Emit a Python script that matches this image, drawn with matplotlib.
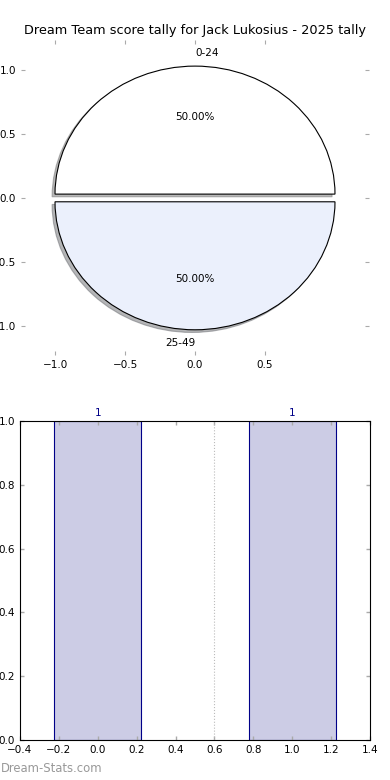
import matplotlib
matplotlib.use("Agg")
import matplotlib.pyplot as plt

title = "Dream Team score tally for Jack Lukosius - 2025 tally"
pie_labels = ["0-24", "25-49"]
pie_values = [1, 1]
pie_colors = ["#FFFFFF", "#EBF0FC"]
bar_positions = [0, 1]
bar_values = [1, 1]

fig = plt.figure(figsize=(3.9, 7.8), dpi=100)
tick_gray = "#aaaaaa"

# pie axes
ax1 = fig.add_axes([21/390, 1-355/780, 348/390, 315/780])
wedges, texts, autotexts = ax1.pie(pie_values, labels=pie_labels, colors=pie_colors,
                                   explode=[0.03, 0.03],
                                   shadow=dict(ox=-0.015, oy=-0.015, shade=0.55),
                                   autopct="%1.2f%%",
                                   startangle=0, labeldistance=1.1, pctdistance=0.6,
                                   wedgeprops=dict(edgecolor="black", linewidth=0.8),
                                   textprops=dict(fontsize=7.5))
texts[0].set_ha("left")
texts[1].set_ha("right")
ax1.set_aspect("auto")
ax1.set_xlim(-1.243, 1.243)
ax1.set_ylim(-1.227, 1.234)
ax1.set_frame_on(False)
ax1.set_xticks([-1.0, -0.5, 0.0, 0.5])
ax1.set_yticks([-1.0, -0.5, 0.0, 0.5, 1.0])
ax1.tick_params(direction="in", length=3, color=tick_gray, labelsize=7.5,
                top=True, right=True, bottom=True, left=True)
ax1.set_title(title, fontsize=9.25, pad=4)

# bar axes
ax2 = fig.add_axes([20/390, 1-740/780, 350/390, 319/780])
ax2.bar(bar_positions, bar_values, width=0.447, color="#CCCCE5", edgecolor="#000088", linewidth=0.8)
for x, v in zip(bar_positions, bar_values):
    ax2.text(x, v + 0.01, str(v), ha="center", va="bottom", color="#000088", fontsize=7.5)
ax2.axvline(0.6, color="#bbbbbb", linestyle=":", linewidth=0.8)
ax2.set_xlim(-0.4, 1.4)
ax2.set_ylim(0, 1.0)
ax2.set_xticks([-0.4, -0.2, 0.0, 0.2, 0.4, 0.6, 0.8, 1.0, 1.2, 1.4])
ax2.set_yticks([0.0, 0.2, 0.4, 0.6, 0.8, 1.0])
ax2.tick_params(direction="in", length=3, color=tick_gray, labelsize=7.5,
                top=True, right=True, width=1)
for s in ax2.spines.values():
    s.set_linewidth(0.8)

fig.text(1/390, 1-769/780, "Dream-Stats.com", color="#999999", fontsize=8.4,
         va="center", ha="left")

fig.savefig("out.png", dpi=100)
